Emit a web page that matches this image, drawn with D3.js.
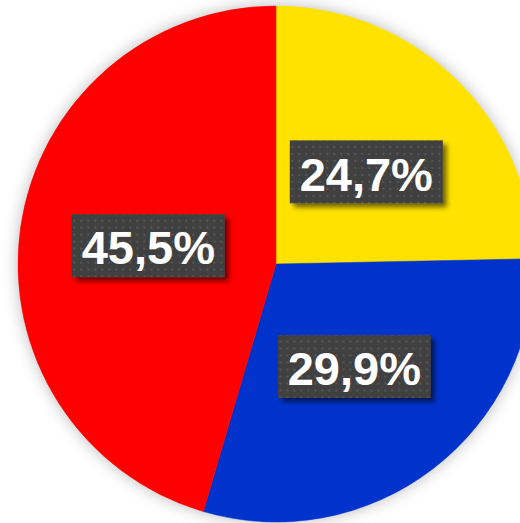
<!DOCTYPE html>
<html>
<head>
<meta charset="utf-8">
<script src="https://cdn.jsdelivr.net/npm/d3@7"></script>
<style>
  html, body { margin: 0; padding: 0; background: #ffffff; overflow: hidden; }
  svg { display: block; }
</style>
</head>
<body>
<svg id="chart" width="520" height="523"></svg>
<script>
// Slice data, in drawing order clockwise from 12 o'clock
const categories = ["A", "B", "C"];
const values = [24.7, 29.9, 45.5];
const labels = ["24,7%", "29,9%", "45,5%"];
const colors = ["#FFE200", "#0033CC", "#FF0000"];

const width = 520, height = 523;
const cx = 276, cy = 264, radius = 258;

const svg = d3.select("#chart");
const defs = svg.append("defs");

// Soft glow behind the pie
const glow = defs.append("filter").attr("id", "glow")
  .attr("x", "-20%").attr("y", "-20%").attr("width", "140%").attr("height", "140%");
glow.append("feGaussianBlur").attr("stdDeviation", 7);

// Drop shadow for the label boxes
const shadow = defs.append("filter").attr("id", "boxShadow")
  .attr("x", "-20%").attr("y", "-30%").attr("width", "150%").attr("height", "170%");
shadow.append("feGaussianBlur").attr("in", "SourceAlpha").attr("stdDeviation", 2.5).attr("result", "b");
shadow.append("feOffset").attr("in", "b").attr("dx", 4).attr("dy", 4).attr("result", "o");
shadow.append("feComponentTransfer").attr("in", "o").attr("result", "s")
  .append("feFuncA").attr("type", "linear").attr("slope", 0.55);
const merge = shadow.append("feMerge");
merge.append("feMergeNode").attr("in", "s");
merge.append("feMergeNode").attr("in", "SourceGraphic");

// Dotted texture for label boxes
const pat = defs.append("pattern").attr("id", "dots")
  .attr("patternUnits", "userSpaceOnUse").attr("width", 7).attr("height", 7);
pat.append("rect").attr("width", 7).attr("height", 7).attr("fill", "#404040");
pat.append("rect").attr("x", 2).attr("y", 2).attr("width", 2).attr("height", 2).attr("fill", "#575757");

const g = svg.append("g").attr("transform", `translate(${cx},${cy})`);

g.append("circle").attr("r", radius + 2).attr("fill", "#c8c8c8")
  .attr("filter", "url(#glow)");

const pie = d3.pie().sort(null).value(d => d.value);
const arc = d3.arc().innerRadius(0).outerRadius(radius);
const labelArc = d3.arc().innerRadius(radius / 2).outerRadius(radius / 2);

const data = categories.map((c, i) => ({ cat: c, value: values[i], label: labels[i], color: colors[i] }));
const arcs = pie(data);

g.selectAll("path.slice").data(arcs).join("path")
  .attr("class", "slice")
  .attr("d", arc)
  .attr("fill", d => d.data.color)
  .attr("stroke", d => d.data.color)
  .attr("stroke-width", 0.5);

const boxW = 153, boxH = 63;
const lbl = g.selectAll("g.lbl").data(arcs).join("g")
  .attr("class", "lbl")
  .attr("transform", d => {
    const [x, y] = labelArc.centroid(d);
    return `translate(${x},${y})`;
  });

lbl.append("rect")
  .attr("x", -boxW / 2).attr("y", -boxH / 2)
  .attr("width", boxW).attr("height", boxH)
  .attr("fill", "url(#dots)")
  .attr("filter", "url(#boxShadow)");

lbl.append("text")
  .attr("text-anchor", "middle")
  .attr("dy", "0.4em")
  .attr("font-family", "'Liberation Sans', Arial, sans-serif")
  .attr("font-weight", "bold")
  .attr("font-size", 47)
  .attr("fill", "#ffffff")
  .text(d => d.data.label);
</script>
</body>
</html>
